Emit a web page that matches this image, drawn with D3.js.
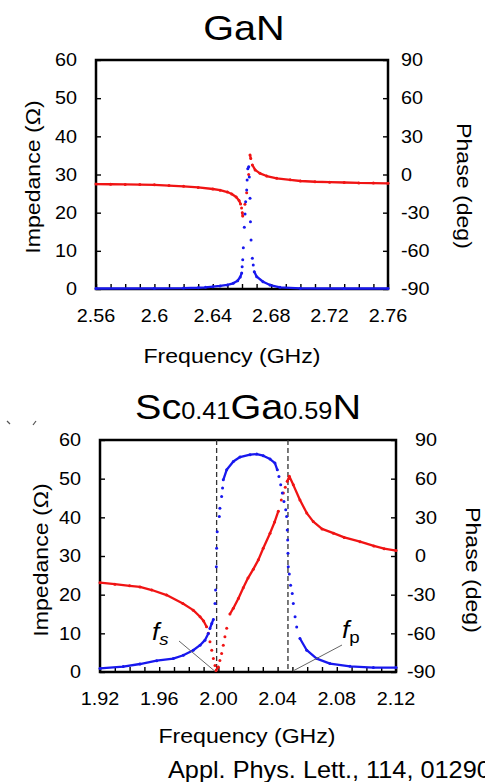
<!DOCTYPE html>
<html>
<head>
<meta charset="utf-8">
<script src="https://cdn.jsdelivr.net/npm/d3@7/dist/d3.min.js"></script>
<style>
  html, body { margin: 0; padding: 0; background: #fff; overflow: hidden; }
  svg { display: block; }
</style>
</head>
<body>
<svg id="chart" width="485" height="782"></svg>
<script>
// ---- Data -------------------------------------------------------------
// GaN resonator: impedance magnitude (ohm) and phase (deg) vs frequency (GHz)
const ganImpedance = [
  [2.560,27.5],[2.570,27.45],[2.580,27.4],[2.590,27.35],[2.600,27.3],[2.610,27.1],
  [2.620,26.9],[2.630,26.6],[2.640,26.2],[2.645,25.9],[2.650,25.4],[2.653,24.9],
  [2.656,24.1],[2.658,23.2],[2.659,22.3],[2.6597,21.2],[2.6602,20.0],[2.6605,19.1],
  [2.6620,22.2],[2.6632,25.2],[2.6646,30.0],[2.6655,35.1],[2.6660,34.2],[2.6671,32.5],
  [2.6690,31.2],[2.6723,30.3],[2.6769,29.6],[2.6838,29.0],[2.6930,28.6],[2.700,28.3],
  [2.710,28.1],[2.720,28.0],[2.730,27.9],[2.740,27.8],[2.750,27.75],[2.760,27.7]
];
const ganPhase = [
  [2.560,-89.6],[2.600,-89.5],[2.620,-89.3],[2.630,-89.0],[2.635,-88.7],[2.640,-88.2],
  [2.645,-87.6],[2.650,-86.8],[2.654,-85.5],[2.657,-83.5],[2.6588,-80.5],[2.6598,-77.5],
  [2.6601,-72.5],[2.6605,-67.0],[2.6609,-57.5],[2.6616,-41.5],[2.6621,-31.0],[2.6625,-21.4],
  [2.6632,-12.2],[2.6635,-4.3],[2.6640,4.5],[2.6646,6.0],[2.6650,-2.0],[2.6655,-18.7],
  [2.6658,-37.1],[2.6662,-51.5],[2.6671,-65.9],[2.6677,-71.1],[2.6684,-76.4],[2.6701,-80.3],
  [2.6744,-84.3],[2.6792,-86.9],[2.6860,-88.7],[2.700,-89.5],[2.730,-89.6],[2.760,-89.6]
];

// Sc0.41Ga0.59N resonator
const scImpedance = [
  [1.920,23.1],[1.930,22.7],[1.940,22.3],[1.947,22.0],[1.955,21.2],[1.965,19.9],
  [1.976,17.7],[1.983,16.0],[1.9876,14.3],[1.990,13.2],[1.992,11.7],[1.9932,10.0],
  [1.9943,7.8],[1.9955,5.6],[1.9966,3.5],[1.9977,1.7],[1.9984,0.4],[1.9999,1.3],
  [2.0010,3.0],[2.0022,4.8],[2.0033,6.9],[2.0044,9.1],[2.0056,11.3],[2.0078,15.0],
  [2.0101,16.5],[2.0135,19.0],[2.0168,21.8],[2.0200,24.3],[2.0236,26.6],[2.0270,29.0],
  [2.0303,32.0],[2.0349,35.9],[2.0380,38.8],[2.0405,41.6],[2.0425,44.5],[2.0439,46.3],
  [2.0452,47.8],[2.0465,49.3],[2.0479,50.6],[2.0506,48.4],[2.0551,44.5],[2.0597,41.1],
  [2.0641,38.9],[2.0700,37.0],[2.0777,35.9],[2.0850,34.8],[2.0957,33.7],[2.1050,32.6],
  [2.1120,31.9],[2.1200,31.4]
];
const scPhase = [
  [1.920,-87.2],[1.9357,-85.8],[1.947,-83.8],[1.9583,-81.2],[1.9695,-79.6],[1.9763,-77.0],
  [1.983,-73.1],[1.9876,-69.2],[1.9909,-65.3],[1.9932,-60.1],[1.9943,-56.2],[1.9955,-52.4],
  [1.9966,-49.2],[1.9977,-36.8],[1.9981,-26.4],[1.9986,-8.3],[1.9988,6.0],[1.9992,18.9],
  [2.0006,30.6],[2.0010,37.1],[2.0022,46.1],[2.0028,52.7],[2.0033,59.1],[2.0056,66.9],
  [2.0101,73.3],[2.0146,76.8],[2.0214,78.6],[2.0259,79.1],[2.0303,77.8],[2.0349,75.2],
  [2.0382,72.1],[2.0398,66.9],[2.0409,61.7],[2.0421,55.2],[2.0432,48.8],[2.0443,42.3],
  [2.0455,35.8],[2.0461,30.6],[2.0465,20.2],[2.0468,12.4],[2.0470,2.1],[2.0472,-8.3],
  [2.0479,-14.0],[2.0488,-22.6],[2.0499,-29.0],[2.0506,-36.8],[2.0518,-47.2],[2.0529,-55.0],
  [2.0551,-64.0],[2.0597,-73.1],[2.0664,-79.6],[2.0754,-83.5],[2.0889,-85.6],[2.1047,-86.6],
  [2.1200,-86.6]
];

// Resonance / anti-resonance markers (GHz)
const scResonances = { fs: 1.9988, fp: 2.0470 };

// Axis ticks and labels
const ganFreqLabels = ["2.56","2.6","2.64","2.68","2.72","2.76"];
const scFreqLabels  = ["1.92","1.96","2.00","2.04","2.08","2.12"];
const impedanceTicks = [0,10,20,30,40,50,60];
const phaseTicks = [-90,-60,-30,0,30,60,90];

// ---- Drawing ---------------------------------------------------------
const svg = d3.select("#chart");
const FONT = '"Liberation Sans", Arial, Helvetica, sans-serif';
const SX = 1.1;           // horizontal stretch of lettering
const RED = "#f01414", BLUE = "#1818ee";

function label(x, y, str, size, opts = {}) {
  return svg.append("text")
    .attr("transform", `translate(${x},${y}) rotate(${opts.rotate || 0}) scale(${SX},1)`)
    .attr("text-anchor", opts.anchor || "middle")
    .attr("dominant-baseline", opts.baseline || "auto")
    .attr("font-family", FONT)
    .attr("font-size", size)
    .attr("fill", "#000")
    .text(str);
}

// dots at every sample; consecutive samples are joined where the trace is shallow
function drawSeries(g, pts, x, y, color) {
  const P = pts.map(([f, v]) => [x(f), y(v)]);
  const segs = [];
  for (let i = 1; i < P.length; i++) {
    const dx = Math.abs(P[i][0] - P[i-1][0]), dy = Math.abs(P[i][1] - P[i-1][1]);
    if (Math.hypot(dx, dy) < 4 || dy <= 3 * dx) segs.push([P[i-1], P[i]]);
  }
  g.append("path")
    .attr("d", segs.map(s => d3.line()(s)).join(""))
    .attr("fill", "none").attr("stroke", color)
    .attr("stroke-width", 2.3).attr("stroke-linecap", "round");
  g.selectAll(null).data(P).join("circle")
    .attr("cx", d => d[0]).attr("cy", d => d[1]).attr("r", 1.5).attr("fill", color);
}

function panel(cfg) {
  const x  = d3.scaleLinear().domain(cfg.freqDomain).range([cfg.left, cfg.right]);
  const yZ = d3.scaleLinear().domain([0, 60]).range([cfg.bottom, cfg.top]);
  const yP = d3.scaleLinear().domain([-90, 90]).range([cfg.bottom, cfg.top]);
  const g = svg.append("g");

  // inward tick marks
  const minor = d3.range(0, 21).map(i => cfg.freqDomain[0] + i * 0.01);
  const styleAxis = sel => {
    sel.select(".domain").remove();
    sel.selectAll("line").attr("stroke", "#000").attr("stroke-width", 1.4);
  };
  g.append("g").attr("transform", `translate(0,${cfg.bottom})`)
    .call(d3.axisBottom(x).tickValues(minor).tickSize(-5).tickFormat(""))
    .call(styleAxis);
  g.append("g").attr("transform", `translate(${cfg.left},0)`)
    .call(d3.axisLeft(yZ).tickValues(impedanceTicks).tickSize(-5).tickFormat(""))
    .call(styleAxis);
  g.append("g").attr("transform", `translate(${cfg.right},0)`)
    .call(d3.axisRight(yP).tickValues(phaseTicks).tickSize(-5).tickFormat(""))
    .call(styleAxis);

  // frame
  g.append("rect")
    .attr("x", cfg.left).attr("y", cfg.top)
    .attr("width", cfg.right - cfg.left).attr("height", cfg.bottom - cfg.top)
    .attr("fill", "none").attr("stroke", "#000").attr("stroke-width", 2.5);

  // tick labels
  cfg.freqLabels.forEach((t, i) =>
    label(x(cfg.freqDomain[0] + i * 0.04), cfg.bottom + 33, t, 18));
  impedanceTicks.forEach(v =>
    label(cfg.left - 19, yZ(v), String(v), 18, { anchor: "end", baseline: "central" }));
  phaseTicks.forEach(v =>
    label(cfg.right + cfg.rightPad - (v < 0 ? cfg.minusShift : 0), yP(v), String(v), 18,
          { anchor: "start", baseline: "central" }));

  // axis titles
  label(cfg.xTitle[0], cfg.xTitle[1], "Frequency (GHz)", 21);
  label(cfg.leftTitle[0], cfg.leftTitle[1], "Impedance (\u03A9)", 21, { rotate: -90, baseline: "central" });
  label(cfg.rightTitle[0], cfg.rightTitle[1], "Phase (deg)", 21, { rotate: 90, baseline: "central" });

  return { g, x, yZ, yP };
}

// ---- GaN panel ---
const ganPanel = panel({
  left: 96, right: 388, top: 60, bottom: 289,
  freqDomain: [2.56, 2.76], freqLabels: ganFreqLabels,
  rightPad: 13, minusShift: 0,
  xTitle: [232, 363], leftTitle: [33, 177], rightTitle: [464, 186]
});
label(244, 40, "GaN", 36);
drawSeries(ganPanel.g, ganImpedance, ganPanel.x, ganPanel.yZ, RED);
drawSeries(ganPanel.g, ganPhase, ganPanel.x, ganPanel.yP, BLUE);

// ---- Sc0.41Ga0.59N panel ---
const scPanel = panel({
  left: 100, right: 396, top: 440, bottom: 672,
  freqDomain: [1.92, 2.12], freqLabels: scFreqLabels,
  rightPad: 19, minusShift: 8,
  xTitle: [247, 743], leftTitle: [41, 560], rightTitle: [473, 570]
});

// title with reduced-size composition numbers
const title = svg.append("text")
  .attr("transform", `translate(248,419) scale(${SX},1)`)
  .attr("text-anchor", "middle")
  .attr("font-family", FONT).attr("font-size", 36).attr("fill", "#000");
[["Sc",36],["0.41",23],["Ga",36],["0.59",23],["N",36]].forEach(([t, s]) =>
  title.append("tspan").attr("font-size", s).text(t));

// small stray marks left of the lower title
[[7,421,10,424],[33,425,36,421]].forEach(([a,b,c,d]) =>
  svg.append("line").attr("x1",a).attr("y1",b).attr("x2",c).attr("y2",d)
    .attr("stroke","#555").attr("stroke-width",1.2));

// resonance / anti-resonance guides
[scResonances.fs, scResonances.fp].forEach(f =>
  scPanel.g.append("line")
    .attr("x1", scPanel.x(f)).attr("x2", scPanel.x(f))
    .attr("y1", scPanel.yZ(60)).attr("y2", scPanel.yZ(0))
    .attr("stroke", "#333").attr("stroke-width", 1.3).attr("stroke-dasharray", "5,3"));

drawSeries(scPanel.g, scImpedance, scPanel.x, scPanel.yZ, RED);
drawSeries(scPanel.g, scPhase, scPanel.x, scPanel.yP, BLUE);

// f_s and f_p callouts
function callout(f, lx, ly, sub, subItalic, start, endOffset) {
  const t = svg.append("text")
    .attr("transform", `translate(${lx},${ly}) scale(${SX},1)`)
    .attr("font-family", FONT).attr("font-size", 24).attr("fill", "#000");
  t.append("tspan").attr("font-style", "italic").text("f");
  t.append("tspan").attr("font-size", 17).attr("dy", 5)
    .attr("font-style", subItalic ? "italic" : "normal").text(sub);
  svg.append("line")
    .attr("x1", start[0]).attr("y1", start[1])
    .attr("x2", scPanel.x(f) + endOffset[0]).attr("y2", scPanel.yZ(0) + endOffset[1])
    .attr("stroke", "#666").attr("stroke-width", 1);
}
callout(scResonances.fs, 152, 640, "s", true, [179, 641], [-2, -1]);
callout(scResonances.fp, 342, 638, "p", false, [342, 645], [5, -1]);

// source reference (runs off the right edge of the page)
label(168, 778, "Appl. Phys. Lett., 114, 012902", 23, { anchor: "start" });
</script>
</body>
</html>
